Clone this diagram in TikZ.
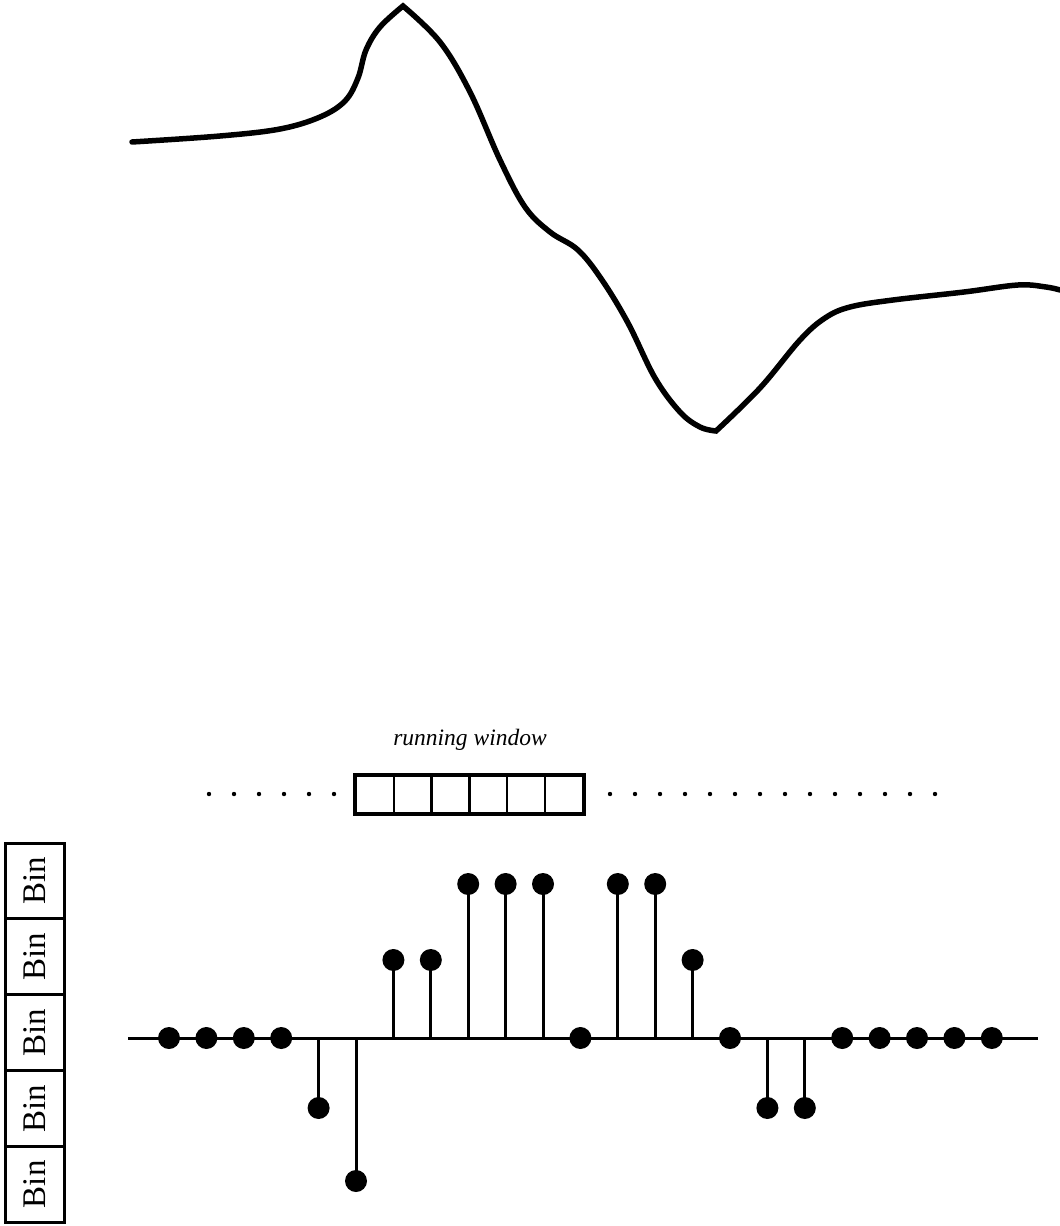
\documentclass[tikz,border=0pt]{standalone}
\usepackage{fontspec}
\setmainfont{Liberation Serif}
\begin{document}
\begin{tikzpicture}[x=1pt,y=-1pt,
  wave/.style={line width=5.5pt, line cap=round},
  axisline/.style={line width=3pt},
  stemline/.style={line width=3pt},
  sample/.style={circle, fill=black, inner sep=0pt, minimum size=22pt},
  wcell/.style={draw, line width=2.5pt, inner sep=0pt, minimum width=37.8pt, minimum height=37pt},
  bincell/.style={draw, line width=3pt, inner sep=0pt, rotate=90,
    minimum width=75.8pt, minimum height=59pt,
    font=\fontsize{33}{33}\selectfont},
  gapdot/.style={fill=black}
]
\useasboundingbox (0,0) rectangle (1060,1226);

% signal waveform: rise to a sharp peak, fall to a sharp trough, level off
\draw[wave]
  plot[smooth, tension=0.6] coordinates {(132,142) (220,136) (280,129) (320,117)
    (345,101) (358,78) (366,50) (380,27) (403,6)}
  -- plot[smooth, tension=0.6] coordinates {(403,6) (440,42) (470,92) (500,160)
    (525,207) (550,232) (578,250) (602,280) (628,323) (655,378) (680,412)
    (700,427) (716,431)}
  -- plot[smooth, tension=0.6] coordinates {(716,431) (760,388) (800,340) (825,318)
    (850,307) (893,300) (964,292) (1018,285) (1046,287) (1060,290)};

% running window of six cells
\foreach \k in {1,...,6}
  \node[wcell] (w\k) at ({356+37.8*(\k-0.5)},794.5) {};
\draw[line width=3.5pt] (w1.north west) rectangle (w6.south east);
\node[font=\itshape\fontsize{23.5}{23.5}\selectfont, anchor=base] (wlabel) at (470,745) {running window};

% dotted continuation on both sides of the window
\foreach \k in {0,...,5}
  \fill[gapdot] ({209+25*\k},794) circle (2.2);
\foreach \k in {0,...,13}
  \fill[gapdot] ({610+25*\k},794) circle (2.2);

% column of bins
\foreach \k in {1,...,5}
  \node[bincell] (bin\k) at (34.5,{881+75.8*(\k-1)}) {Bin};

% sample axis and quantised stems
\coordinate (axL) at (128,1038);
\coordinate (axR) at (1038,1038);
\draw[axisline] (axL) -- (axR);
\foreach \v [count=\i from 0] in {0,0,0,0,-70,-143,78,78,154,154,154,0,154,154,78,0,-70,-70,0,0,0,0,0} {
  \coordinate (b\i) at ({169+37.4*\i},1038);
  \node[sample] (d\i) at ({169+37.4*\i},{1038-\v}) {};
  \draw[stemline] (b\i) -- (d\i.center);
}
\end{tikzpicture}
\end{document}
